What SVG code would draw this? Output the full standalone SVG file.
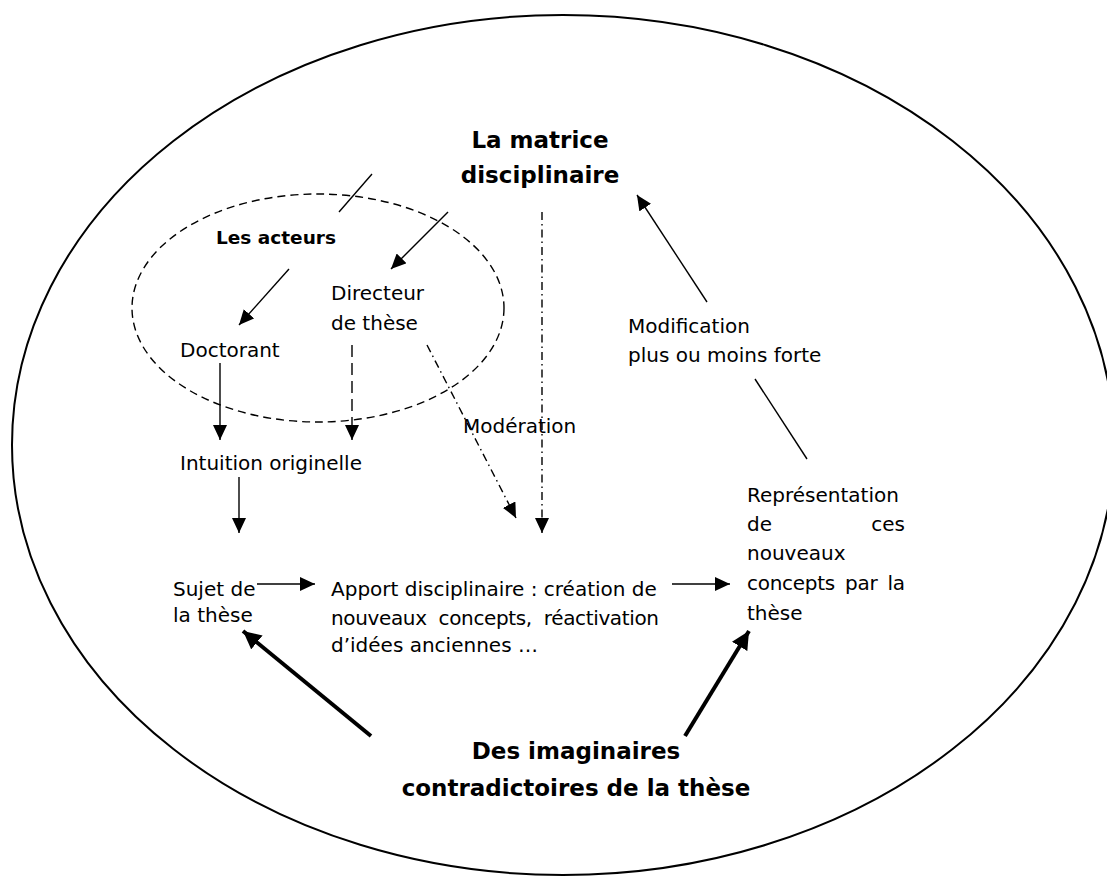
<svg xmlns="http://www.w3.org/2000/svg" width="1107" height="876" viewBox="0 0 1107 876">
<style>
text{font-family:"DejaVu Sans","Liberation Sans",sans-serif;fill:#000}
.n{font-size:20px}
.b{font-weight:bold;font-size:23px}
.line{stroke:#000;stroke-width:1.4;fill:none}
.thick{stroke:#000;stroke-width:4;fill:none}
</style>
<defs>
<marker id="ah" markerUnits="userSpaceOnUse" markerWidth="16" markerHeight="14" refX="15" refY="7" orient="auto"><path d="M0,0 L15,7 L0,14 z" fill="#000"/></marker>
<marker id="ahT" markerUnits="userSpaceOnUse" markerWidth="20" markerHeight="18" refX="18" refY="9" orient="auto"><path d="M0,0 L18,9 L0,18 z" fill="#000"/></marker>
</defs>
<rect width="1107" height="876" fill="#fff"/>
<ellipse id="outer" cx="563" cy="445" rx="551" ry="430" fill="none" stroke="#000" stroke-width="2"/>
<ellipse id="acteurs-zone" cx="318" cy="308" rx="186" ry="114" fill="none" stroke="#000" stroke-width="1.4" stroke-dasharray="8 5"/>
<g id="connectors">
<line class="line" x1="372" y1="174" x2="339" y2="212"/>
<line class="line" x1="448" y1="212" x2="391" y2="269" marker-end="url(#ah)"/>
<line class="line" x1="289" y1="269" x2="239" y2="325" marker-end="url(#ah)"/>
<line class="line" x1="220" y1="363" x2="220" y2="440" marker-end="url(#ah)"/>
<line class="line" x1="352" y1="345" x2="352" y2="440" stroke-dasharray="12 6" marker-end="url(#ah)"/>
<line class="line" x1="239" y1="477" x2="239" y2="533" marker-end="url(#ah)"/>
<line class="line" x1="542" y1="212" x2="542" y2="533" stroke-dasharray="8 4 1.5 4" marker-end="url(#ah)"/>
<line class="line" x1="427" y1="345" x2="516" y2="518" stroke-dasharray="8 4 1.5 4" marker-end="url(#ah)"/>
<line class="line" x1="257" y1="584" x2="315" y2="584" marker-end="url(#ah)"/>
<line class="line" x1="672" y1="584" x2="730" y2="584" marker-end="url(#ah)"/>
<line class="line" x1="707" y1="302" x2="637" y2="195" marker-end="url(#ah)"/>
<line class="line" x1="807" y1="459" x2="755" y2="379"/>
<line class="thick" x1="371" y1="736" x2="243" y2="631" marker-end="url(#ahT)"/>
<line class="thick" x1="685" y1="736" x2="749" y2="631" marker-end="url(#ahT)"/>
</g>
<g id="matrice"><text class="b" x="540" y="148" text-anchor="middle">La matrice</text><text class="b" x="540" y="183" text-anchor="middle">disciplinaire</text></g>
<g id="les-acteurs"><text x="216" y="244" style="font-weight:bold;font-size:18.5px">Les acteurs</text></g>
<g id="directeur"><text class="n" x="331" y="300">Directeur</text><text class="n" x="331" y="330">de thèse</text></g>
<g id="doctorant"><text class="n" x="180" y="357">Doctorant</text></g>
<g id="intuition"><text class="n" x="180" y="470">Intuition originelle</text></g>
<g id="moderation"><text class="n" x="463" y="433">Modération</text></g>
<g id="modification"><text class="n" x="628" y="333">Modification</text><text class="n" x="628" y="362">plus ou moins forte</text></g>
<g id="sujet"><text class="n" x="173" y="596">Sujet de</text><text class="n" x="173" y="622">la thèse</text></g>
<g id="apport"><text class="n" x="331" y="596">Apport disciplinaire : création de</text><text class="n" x="331" y="625" textLength="328" lengthAdjust="spacing" style="word-spacing:6px">nouveaux concepts, réactivation</text><text class="n" x="331" y="652">d’idées anciennes …</text></g>
<g id="representation"><text class="n" x="747" y="502">Représentation</text><text class="n" x="747" y="531">de</text><text class="n" x="905" y="531" text-anchor="end">ces</text><text class="n" x="747" y="560">nouveaux</text><text class="n" x="747" y="590" textLength="158" lengthAdjust="spacing" style="word-spacing:4px">concepts par la</text><text class="n" x="747" y="620">thèse</text></g>
<g id="imaginaires"><text class="b" x="576" y="759" text-anchor="middle">Des imaginaires</text><text class="b" x="576" y="796" text-anchor="middle">contradictoires de la thèse</text></g>
</svg>
